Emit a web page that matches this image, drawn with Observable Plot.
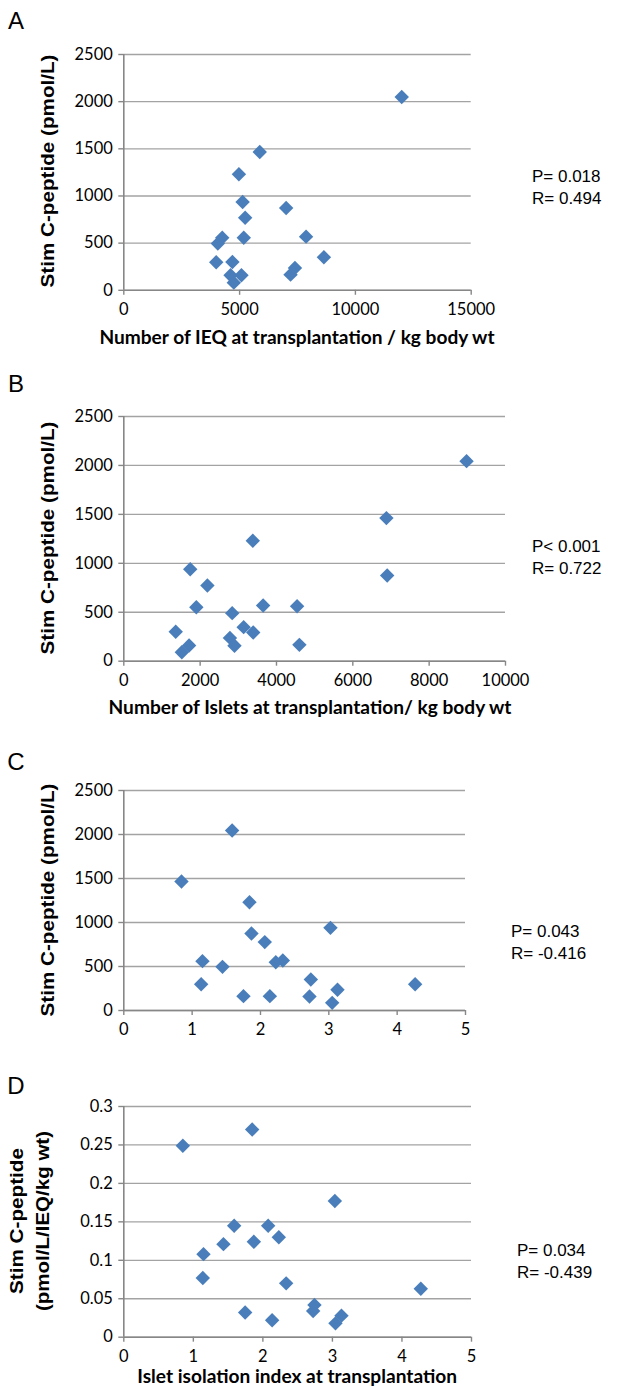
<!DOCTYPE html>
<html><head><meta charset="utf-8">
<script src="https://cdn.jsdelivr.net/npm/d3@7"></script>
<script src="https://cdn.jsdelivr.net/npm/@observablehq/plot@0.6"></script>
<style>
body{margin:0;background:#fff;}
#wrap{position:relative;width:619px;height:1386px;overflow:hidden;background:#fff;}
.abs{position:absolute;white-space:nowrap;line-height:1;transform:translate(-50%,-50%);}
.arial{font-family:"Liberation Sans",Arial,sans-serif;color:#000;}
.xl{font-family:Lato,"Open Sans",sans-serif;font-weight:bold;color:#000;}
</style></head><body><div id="wrap"></div>
<script>
// ---------- data ----------
// Panel A: IEQ / kg body wt vs stimulated C-peptide
const ieqPerKg = [12000, 5870, 4970, 5130, 5240, 5180, 7010, 7870, 8640, 4250, 4060, 3990, 4690, 4610, 5080, 4750, 7390, 7200];
const cpepA    = [2050, 1466, 1230, 936, 770, 558, 873, 569, 350, 558, 495, 297, 300, 159, 159, 81, 237, 166];
// Panel B: islets / kg body wt vs stimulated C-peptide
const isletsPerKg = [8980, 6880, 6900, 3380, 1740, 2190, 1900, 3650, 4540, 2840, 1360, 3140, 3390, 2780, 2900, 4600, 1710, 1520];
const cpepB       = [2044, 1462, 876, 1230, 940, 773, 552, 569, 562, 491, 300, 348, 293, 238, 157, 167, 160, 92];
// Panel C: islet isolation index vs stimulated C-peptide
const isoIndexC = [1.585, 0.844, 1.839, 1.868, 2.063, 3.024, 1.151, 1.444, 2.224, 2.327, 1.132, 2.737, 1.751, 2.137, 2.717, 3.127, 3.049, 4.263];
const cpepC     = [2045, 1466, 1231, 875, 777, 939, 561, 496, 549, 568, 299, 352, 163, 163, 159, 235, 87, 299];
// Panel D: islet isolation index vs C-peptide per IEQ/kg
const isoIndexD = [0.849, 1.846, 3.035, 1.587, 2.076, 1.433, 1.870, 2.229, 1.146, 1.136, 2.335, 4.271, 1.745, 2.133, 2.723, 2.742, 3.130, 3.044];
const cpepPerIeq = [0.249, 0.270, 0.177, 0.145, 0.145, 0.121, 0.124, 0.130, 0.108, 0.077, 0.070, 0.063, 0.032, 0.022, 0.034, 0.042, 0.028, 0.018];

// ticks
const xTicksA = [0, 5000, 10000, 15000];
const xTicksB = [0, 2000, 4000, 6000, 8000, 10000];
const xTicksCD = [0, 1, 2, 3, 4, 5];
const yTicksCpep = [0, 500, 1000, 1500, 2000, 2500];
const yTicksD = [0, 0.05, 0.1, 0.15, 0.2, 0.25, 0.3];

// texts
const panelLetters = ["A", "B", "C", "D"];
const yLabel = "Stim C-peptide (pmol/L)";
const yLabelD = ["Stim C-peptide", "(pmol/L/IEQ/kg wt)"];
const xLabels = ["Number of IEQ at transplantation / kg body wt", "Number of Islets at transplantation/ kg body wt", "", "Islet isolation index at transplantation"];
const stats = [["P= 0.018", "R= 0.494"], ["P< 0.001", "R= 0.722"], ["P= 0.043", "R= -0.416"], ["P= 0.034", "R= -0.439"]];

// ---------- layout ----------
const wrap = document.getElementById("wrap");
const W = 619;
const layouts = [
  {xs: ieqPerKg, ys: cpepA, xTicks: xTicksA, yTicks: yTicksCpep, x0: 123.3, x1: 470.7, yTop: 53.5, yBot: 289.3, letterY: 21, statX: 532, statY: 176, xlabY: 337},
  {xs: isletsPerKg, ys: cpepB, xTicks: xTicksB, yTicks: yTicksCpep, x0: 123.3, x1: 505, yTop: 416, yBot: 660.7, letterY: 384, statX: 532, statY: 546, xlabY: 707},
  {xs: isoIndexC, ys: cpepC, xTicks: xTicksCD, yTicks: yTicksCpep, x0: 123.3, x1: 465, yTop: 790, yBot: 1010, letterY: 762, statX: 511, statY: 931, xlabY: 0},
  {xs: isoIndexD, ys: cpepPerIeq, xTicks: xTicksCD, yTicks: yTicksD, x0: 123.3, x1: 471, yTop: 1106, yBot: 1336.7, letterY: 1086, statX: 517, statY: 1250, xlabY: 1376}
];

function addText(txt, x, y, cls, style) {
  const d = document.createElement("div");
  d.className = "abs " + cls;
  d.textContent = txt;
  d.style.left = x + "px";
  d.style.top = y + "px";
  Object.assign(d.style, style || {});
  wrap.appendChild(d);
  return d;
}

const ctx = document.createElement("canvas").getContext("2d");
// fit x-label font size so panel A label is ~395px wide
ctx.font = "bold 20px Lato";
const wA = ctx.measureText(xLabels[0]).width;
const xlabSize = 20 * 397 / wA;
// y labels: 18px bold, stretched along the text direction to the reference length
ctx.font = "bold 18px 'Liberation Sans'";
function yStretch(txt, target) { return target / ctx.measureText(txt).width; }

function addYLabel(txt, x, y, target) {
  const s = yStretch(txt, target);
  addText(txt, x, y, "arial", {fontSize: "18px", fontWeight: "bold", transform: `translate(-50%,-50%) rotate(-90deg) scale(${s},1)`});
}

layouts.forEach((L, i) => {
  const mt = 20, mb = 36;
  const data = L.xs.map((x, k) => ({x, y: L.ys[k]}));
  const xDom = [L.xTicks[0], L.xTicks[L.xTicks.length - 1]];
  const yDom = [L.yTicks[0], L.yTicks[L.yTicks.length - 1]];
  const chart = Plot.plot({
    width: W,
    height: (L.yBot - L.yTop) + mt + mb,
    marginLeft: L.x0, marginRight: W - L.x1, marginTop: mt, marginBottom: mb,
    style: {fontFamily: "Lato, 'Open Sans', sans-serif", fontSize: "16px", color: "#000", background: "transparent", overflow: "visible"},
    x: {domain: xDom},
    y: {domain: yDom},
    marks: [
      Plot.gridY(L.yTicks, {stroke: "#a3a3a3", strokeOpacity: 1, strokeWidth: 1.3}),
      Plot.ruleY([yDom[0]], {stroke: "#878787", strokeWidth: 1.6}),
      Plot.ruleX([xDom[0]], {stroke: "#878787", strokeWidth: 1.6}),
      Plot.axisY(L.yTicks, {tickSize: 5, tickPadding: 6, stroke: "#878787", strokeWidth: 1.4, fill: "#000", fontSize: 16.5, label: null, tickFormat: d => String(d)}),
      Plot.axisX(L.xTicks, {tickSize: 5, tickPadding: 8, stroke: "#878787", strokeWidth: 1.4, fill: "#000", fontSize: 16.5, label: null, tickFormat: d => String(d)}),
      Plot.dot(data, {x: "x", y: "y", symbol: "diamond2", r: 6.5, fill: "#4a7ebb", stroke: "none"})
    ]
  });
  chart.style.position = "absolute";
  chart.style.left = "0px";
  chart.style.top = (L.yTop - mt) + "px";
  wrap.appendChild(chart);

  // panel letter
  addText(panelLetters[i], 16, L.letterY, "arial", {fontSize: "24px"});
  // y label
  const cy = (L.yTop + L.yBot) / 2;
  if (i < 3) {
    addYLabel(yLabel, 48, cy, 233);
  } else {
    addYLabel(yLabelD[0], 17, cy, 146);
    addYLabel(yLabelD[1], 43, cy, 180);
  }
  // x label
  if (xLabels[i]) {
    const cx = i === 1 ? 310 : (L.x0 + L.x1) / 2;
    addText(xLabels[i], cx, L.xlabY, "xl", {fontSize: xlabSize + "px"});
  }
  // stats
  addText(stats[i][0], L.statX, L.statY, "arial", {fontSize: "17px", transform: "translate(0,-50%)"});
  addText(stats[i][1], L.statX, L.statY + 22, "arial", {fontSize: "17px", transform: "translate(0,-50%)"});
});
</script>
</body></html>
